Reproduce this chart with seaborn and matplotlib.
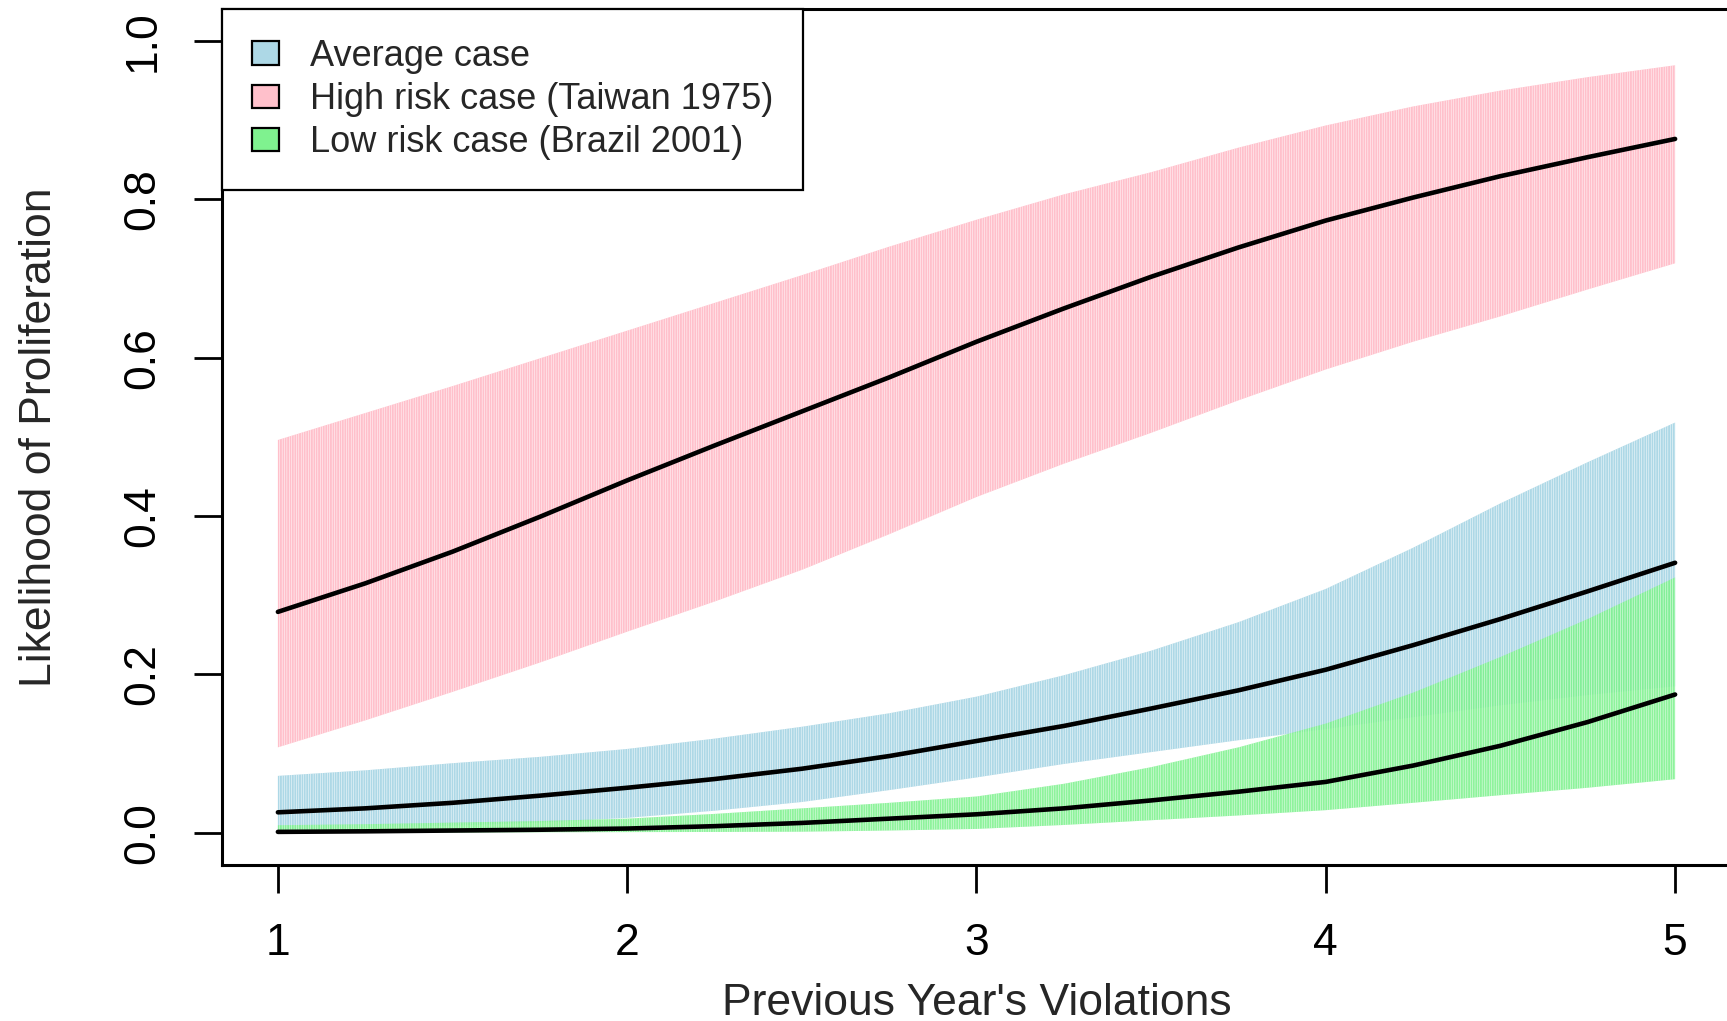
import pandas as pd
import matplotlib
matplotlib.use("Agg")
import matplotlib.pyplot as plt
import seaborn as sns
from matplotlib.patches import Patch

# Values
violations = [1.0, 1.25, 1.5, 1.75, 2.0, 2.25, 2.5, 2.75, 3.0,
              3.25, 3.5, 3.75, 4.0, 4.25, 4.5, 4.75, 5.0]

avg_mean = [0.026, 0.031, 0.038, 0.047, 0.057, 0.068, 0.081, 0.097, 0.116,
            0.135, 0.157, 0.180, 0.206, 0.237, 0.270, 0.305, 0.341]
avg_lower = [0.004, 0.006, 0.009, 0.013, 0.019, 0.028, 0.039, 0.054, 0.070,
             0.087, 0.102, 0.117, 0.131, 0.146, 0.161, 0.174, 0.185]
avg_upper = [0.072, 0.079, 0.088, 0.096, 0.106, 0.119, 0.134, 0.151, 0.172,
             0.199, 0.230, 0.266, 0.308, 0.360, 0.416, 0.468, 0.518]

high_mean = [0.279, 0.315, 0.355, 0.399, 0.445, 0.489, 0.532, 0.575, 0.620,
             0.662, 0.702, 0.739, 0.773, 0.802, 0.829, 0.853, 0.876]
high_lower = [0.108, 0.142, 0.178, 0.215, 0.254, 0.292, 0.332, 0.377, 0.424,
              0.466, 0.505, 0.546, 0.585, 0.620, 0.652, 0.686, 0.719]
high_upper = [0.496, 0.530, 0.564, 0.599, 0.634, 0.669, 0.704, 0.740, 0.774,
              0.806, 0.834, 0.865, 0.893, 0.917, 0.937, 0.954, 0.969]

low_mean = [0.0013, 0.002, 0.003, 0.004, 0.0055, 0.0085, 0.0126, 0.018, 0.0235,
            0.031, 0.041, 0.052, 0.0644, 0.085, 0.110, 0.140, 0.1747]
low_lower = [0.0, 0.0003, 0.0005, 0.0008, 0.001, 0.0012, 0.0015, 0.003, 0.005,
             0.010, 0.016, 0.022, 0.0287, 0.038, 0.0476, 0.057, 0.0678]
low_upper = [0.0097, 0.011, 0.013, 0.015, 0.018, 0.024, 0.031, 0.038, 0.046,
             0.062, 0.083, 0.108, 0.138, 0.177, 0.222, 0.270, 0.3225]

case_labels = ["Average case", "High risk case (Taiwan 1975)", "Low risk case (Brazil 2001)"]
case_colors = ["#ADD8E6", "#FFC0CB", "#7FF28F"]

x_ticks = [1, 2, 3, 4, 5]
y_ticks = [0.0, 0.2, 0.4, 0.6, 0.8, 1.0]
y_ticklabels = ["0.0", "0.2", "0.4", "0.6", "0.8", "1.0"]

# long table for the mean curves
n = len(violations)
df = pd.DataFrame({
    "x": violations * 3,
    "y": avg_mean + high_mean + low_mean,
    "case": [case_labels[0]] * n + [case_labels[1]] * n + [case_labels[2]] * n,
})

sns.set_style("white")
plt.rcParams["font.family"] = ["Liberation Sans", "DejaVu Sans"]
plt.rcParams["hatch.color"] = "white"
plt.rcParams["hatch.linewidth"] = 0.35

fig = plt.figure(figsize=(17.27, 10.21), dpi=100)
ax = fig.add_axes([222 / 1727, (1021 - 864.6) / 1021, 1509 / 1727, (864.6 - 9) / 1021])

# confidence bands (striped like R segments)
bands = [
    (high_lower, high_upper, case_colors[1], 1.0),
    (avg_lower, avg_upper, case_colors[0], 1.0),
    (low_lower, low_upper, case_colors[2], 0.88),
]
for lo, hi, col, a in bands:
    ax.fill_between(violations, lo, hi, facecolor=col, edgecolor="white",
                    linewidth=0, hatch="|" * 7, alpha=a, zorder=2)

sns.lineplot(data=df, x="x", y="y", hue="case", palette=["black"] * 3,
             linewidth=3.3, legend=False, errorbar=None, ax=ax, zorder=4,
             solid_capstyle="round")

ax.set_xlim(0.84, 5.16)
ax.set_ylim(-0.04, 1.04)

ax.set_xticks(x_ticks)
ax.set_xticklabels([str(t) for t in x_ticks])
ax.set_yticks(y_ticks)
ax.set_yticklabels(y_ticklabels, rotation=90, va="center")
ax.tick_params(axis="both", direction="out", length=20, width=2, pad=22,
               labelsize=32, colors="black", bottom=True, left=True)

ax.set_xlabel("Previous Year's Violations", fontsize=32, labelpad=14)
ax.set_ylabel("Likelihood of Proliferation", fontsize=32, labelpad=45)

for sp in ax.spines.values():
    sp.set_visible(True)
    sp.set_color("black")
    sp.set_linewidth(2.2)

handles = [Patch(facecolor=c, edgecolor="black", linewidth=1.6) for c in case_colors]
leg = ax.legend(handles, case_labels, loc="upper left", bbox_to_anchor=(0, 1),
                borderaxespad=0, fontsize=26, fancybox=False, framealpha=1,
                edgecolor="black", handlelength=0.76, handleheight=0.62,
                handletextpad=0.85, borderpad=0.82, labelspacing=0.23)
leg.get_frame().set_linewidth(1.6)
leg.set_zorder(5)

fig.savefig("out.png", dpi=100, facecolor="white")
